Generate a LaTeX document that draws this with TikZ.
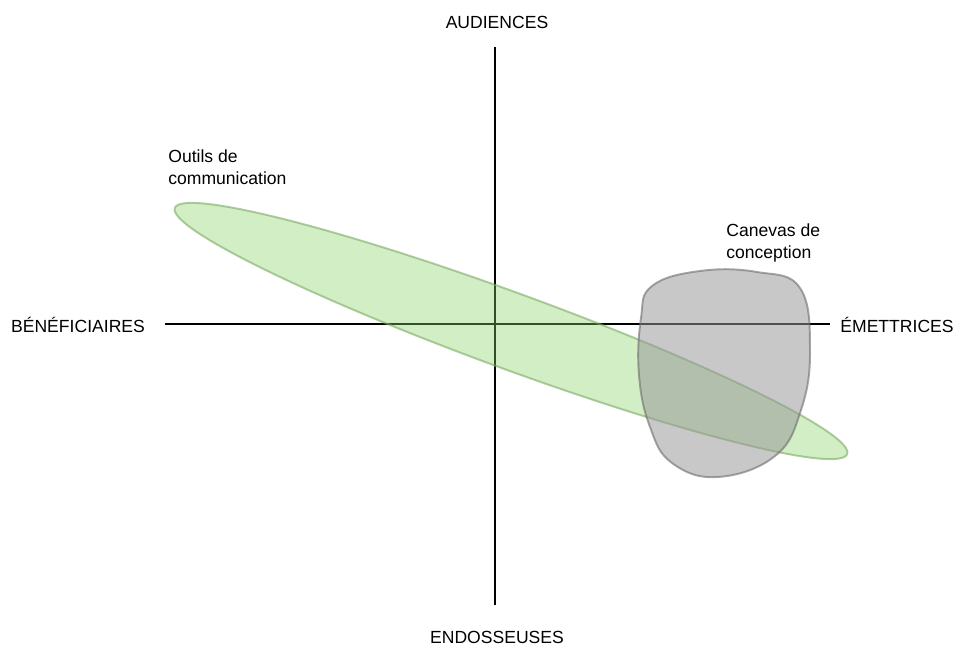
\documentclass[tikz,border=0pt]{standalone}
\usepackage{fontspec}
\setmainfont{Liberation Sans}
\usepackage{tikz}

\definecolor{outilsfill}{RGB}{135,210,100}
\definecolor{outilsline}{RGB}{125,170,100}
\definecolor{canevasfill}{RGB}{151,151,151}
\definecolor{canevasline}{RGB}{110,110,110}

\tikzset{
  axe/.style={line width=1.2pt,color=black},
  pole/.style={font=\fontsize{10}{12}\selectfont,inner sep=0pt},
  zone/.style={font=\fontsize{10}{12.6}\selectfont,align=left,inner sep=0pt},
}

\begin{document}
\begin{tikzpicture}[x=0.02cm,y=-0.02cm]
\useasboundingbox (0,0) rectangle (963,651);

% Ends of the two axes.
\coordinate (haut) at (495,47);
\coordinate (bas) at (495,605);
\coordinate (gauche) at (165,324);
\coordinate (droite) at (830,324);

\draw[axe] (haut) -- (bas);
\draw[axe] (gauche) -- (droite);

% Names of the four poles.
\node[pole] (audiences) at (497,22) {AUDIENCES};
\node[pole] (endosseuses) at (497,637) {ENDOSSEUSES};
\node[pole] (beneficiaires) at (78,325) {BÉNÉFICIAIRES};
\node[pole] (emettrices) at (897,325) {ÉMETTRICES};

% Zones.
\draw[line width=1.1pt,color=outilsline,fill=outilsfill,fill opacity=0.38,draw opacity=0.6,
      rotate around={-20.1:(511,331)}] (511,331) ellipse [x radius=358, y radius=38];

\draw[line width=1.1pt,color=canevasline,fill=canevasfill,fill opacity=0.53,draw opacity=0.6]
  plot[smooth cycle,tension=0.7] coordinates {(700,271) (757,272) (800,288) (810,350)
    (801,410) (775,456) (718,477) (672,463) (650,427) (639,375) (641,318) (652,286)};

\node[zone,anchor=north west] (outils) at (168,149) {Outils de\\communication};
\node[zone,anchor=north west] (canevas) at (726,223) {Canevas de\\conception};

\end{tikzpicture}
\end{document}
